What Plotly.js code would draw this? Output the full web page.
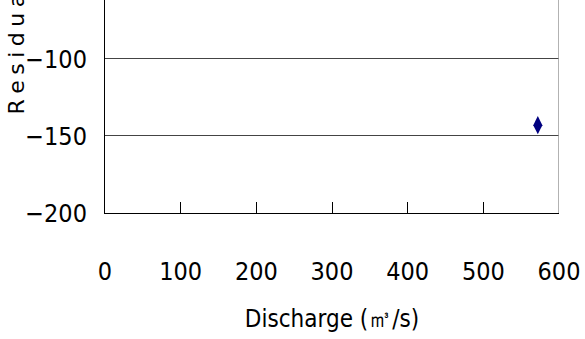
<!DOCTYPE html>
<html>
<head>
<meta charset="utf-8">
<script src="https://cdn.plot.ly/plotly-3.0.1.min.js"></script>
<style>html,body{margin:0;padding:0;background:#fff;}#chart{width:585px;height:339px;}</style>
</head>
<body>
<div id="chart"></div>
<script>
// Data
const discharge = [572];
const residual = [-143];
const xTickVals = [0, 100, 200, 300, 400, 500, 600];
const yTickVals = [-200, -150, -100];
const xTitle = "Discharge (㎥/s)";
const yTitle = "R\u2005e\u2005s\u2005i\u2005d\u2005u\u2005a\u2005l";

const narrow = "Liberation Sans Narrow, DejaVu Sans Condensed, Arial Narrow, sans-serif";

const trace = {
  x: discharge,
  y: residual,
  type: "scatter",
  mode: "markers",
  marker: {symbol: "diamond-tall", size: 13, color: "#000080"},
  showlegend: false,
  hoverinfo: "x+y"
};

const layout = {
  width: 585,
  height: 339,
  margin: {l: 105, r: 26, t: 0, b: 126},
  paper_bgcolor: "#ffffff",
  plot_bgcolor: "#ffffff",
  font: {family: narrow, color: "#000000"},
  xaxis: {
    range: [0, 600],
    tickvals: xTickVals,
    ticks: "inside",
    ticklen: 11,
    tickwidth: 1,
    tickcolor: "#000000",
    showgrid: false,
    zeroline: false,
    showline: true,
    linecolor: "#000000",
    linewidth: 1,
    ticklabelstandoff: 36,
    tickfont: {family: narrow, size: 25, color: "#000000"},
    title: {text: xTitle, font: {family: narrow, size: 24, color: "#000000"}, standoff: 25},
    automargin: false
  },
  yaxis: {
    range: [-200, -61.7],
    tickvals: yTickVals,
    ticks: "",
    showgrid: true,
    gridcolor: "#444444",
    gridwidth: 1,
    zeroline: false,
    showline: true,
    linecolor: "#000000",
    linewidth: 1,
    ticklabelstandoff: 12,
    tickfont: {family: narrow, size: 25, color: "#000000"},
    automargin: false
  },
  shapes: [{
    type: "line", xref: "x", yref: "paper",
    x0: 600, x1: 600, y0: 0, y1: 1,
    line: {color: "#999999", width: 1.5}
  }],
  annotations: [{
    text: yTitle,
    xref: "paper", yref: "paper",
    x: -0.195, y: 0.455,
    xanchor: "center", yanchor: "bottom",
    textangle: -90,
    showarrow: false,
    font: {family: "DejaVu Sans, sans-serif", size: 22, color: "#000000"}
  }]
};

Plotly.newPlot("chart", [trace], layout, {displayModeBar: false, staticPlot: true});
</script>
</body>
</html>
